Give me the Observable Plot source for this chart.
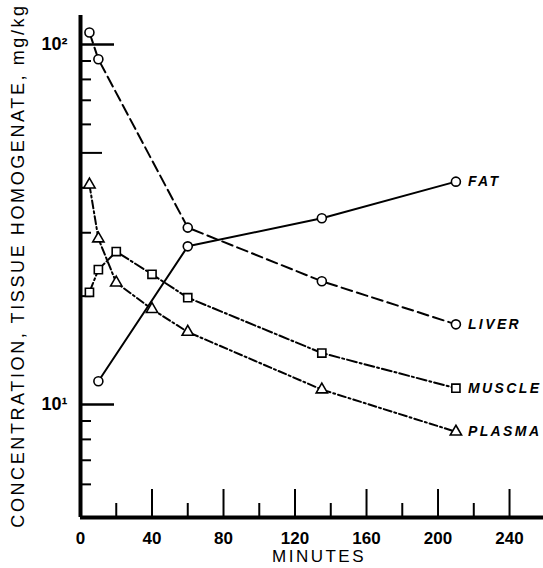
<!DOCTYPE html>
<html><head><meta charset="utf-8">
<script src="https://cdn.jsdelivr.net/npm/d3@7"></script>
<script src="https://cdn.jsdelivr.net/npm/@observablehq/plot@0.6"></script>
<style>
body{margin:0;background:#fff;}
g[aria-description="ylabel"] text{letter-spacing:2.6px;}
g[aria-description="xlabel"] text{letter-spacing:2.5px;}
g[aria-description="series-labels"] text{letter-spacing:2.4px;}
</style></head><body><div id="chart"></div>
<script>
// ---- data ----
const seriesNames = ["FAT", "LIVER", "MUSCLE", "PLASMA"];
const fatMinutes = [10, 60, 135, 210];
const fatValues = [11.6, 27.5, 32.9, 41.6];
const liverMinutes = [5, 10, 60, 135, 210];
const liverValues = [108, 91, 31.0, 22.0, 16.7];
const muscleMinutes = [5, 10, 20, 40, 60, 135, 210];
const muscleValues = [20.5, 23.7, 26.6, 23.0, 19.8, 13.9, 11.1];
const plasmaMinutes = [5, 10, 20, 40, 60, 135, 210];
const plasmaValues = [40.8, 28.9, 21.8, 18.4, 15.9, 11.0, 8.4];

const xTickLabels = [0, 40, 80, 120, 160, 200, 240];
const xMajorTicks = [40, 80, 120, 160, 200, 240];
const xMinorTicks = [20, 60, 100, 140, 180, 220];
const yDecadeTicks = [10, 100];
const yMidTicks = [50];
const yMinorTicks = [6, 7, 8, 9, 20, 30, 40, 60, 70, 80, 90];
const yTickText = {10: "10¹", 100: "10²"};
const xTitle = "MINUTES";
const yTitle = "CONCENTRATION, TISSUE HOMOGENATE, mg/kg";
const xDomain = [0, 259];
const yDomain = [4.854, 120.4];

const toRows = (name, xs, ys) => xs.map((m, i) => ({series: name, minutes: m, value: ys[i]}));
const fat = toRows(seriesNames[0], fatMinutes, fatValues);
const liver = toRows(seriesNames[1], liverMinutes, liverValues);
const muscle = toRows(seriesNames[2], muscleMinutes, muscleValues);
const plasma = toRows(seriesNames[3], plasmaMinutes, plasmaValues);
const lastPoints = [fat, liver, muscle, plasma].map(s => s[s.length - 1]);

const lineOpts = {x: "minutes", y: "value", stroke: "black", strokeWidth: 2};
const dotOpts = {x: "minutes", y: "value", fill: "white", stroke: "black", strokeWidth: 1.6};

const chart = Plot.plot({
  width: 543,
  height: 568,
  marginLeft: 80,
  marginRight: 0,
  marginTop: 15,
  marginBottom: 51,
  style: {fontFamily: "'Liberation Sans', Arial, sans-serif", fontSize: "16px", color: "black", background: "white"},
  x: {domain: xDomain, label: null},
  y: {type: "log", domain: yDomain, label: null},
  marks: [
    Plot.line(fat, {...lineOpts}),
    Plot.line(liver, {...lineOpts, strokeDasharray: "11,5"}),
    Plot.line(muscle, {...lineOpts, strokeDasharray: "10,3,2,3"}),
    Plot.line(plasma, {...lineOpts, strokeDasharray: "8,3,2,3"}),
    Plot.axisY(yDecadeTicks, {anchor: "left", label: null, tickSize: -34, strokeWidth: 2.5, tickFormat: () => ""}),
    Plot.axisY(yMidTicks, {anchor: "left", label: null, tickSize: -22, strokeWidth: 2, tickFormat: () => ""}),
    Plot.axisY(yMinorTicks, {anchor: "left", label: null, tickSize: -11, strokeWidth: 2, tickFormat: () => ""}),
    Plot.axisY(yDecadeTicks, {anchor: "left", label: null, tickSize: 0, tickPadding: 13, fontSize: 18, fontWeight: "bold", tickFormat: d => yTickText[d]}),
    Plot.axisX(xMajorTicks, {anchor: "bottom", label: null, tickSize: -28, strokeWidth: 2, tickFormat: () => ""}),
    Plot.axisX(xMinorTicks, {anchor: "bottom", label: null, tickSize: -14, strokeWidth: 2, tickFormat: () => ""}),
    Plot.axisX(xTickLabels, {anchor: "bottom", label: null, tickSize: 0, tickPadding: 14, fontSize: 17, fontWeight: "bold", tickFormat: d => String(d)}),
    Plot.ruleX([xDomain[0]], {stroke: "black", strokeWidth: 4}),
    Plot.ruleY([yDomain[0]], {stroke: "black", strokeWidth: 4}),
    Plot.dot(fat, {...dotOpts, symbol: "circle", r: 4.5}),
    Plot.dot(liver, {...dotOpts, symbol: "circle", r: 4.5}),
    Plot.dot(muscle, {...dotOpts, symbol: "square", r: 4.6}),
    Plot.dot(plasma, {...dotOpts, symbol: "triangle", r: 4.2}),
    Plot.text(lastPoints, {x: "minutes", y: "value", text: "series", dx: 12, textAnchor: "start", fontStyle: "italic", fontWeight: "bold", fontSize: 14, ariaDescription: "series-labels"}),
    Plot.text([xTitle], {frameAnchor: "bottom", textAnchor: "middle", lineAnchor: "middle", dy: 39, dx: 7, fontSize: 17, ariaDescription: "xlabel"}),
    Plot.text([yTitle], {frameAnchor: "left", textAnchor: "middle", lineAnchor: "middle", dx: -62, dy: -1, rotate: -90, fontSize: 18, ariaDescription: "ylabel"})
  ]
});
document.getElementById("chart").append(chart);
</script></body></html>
